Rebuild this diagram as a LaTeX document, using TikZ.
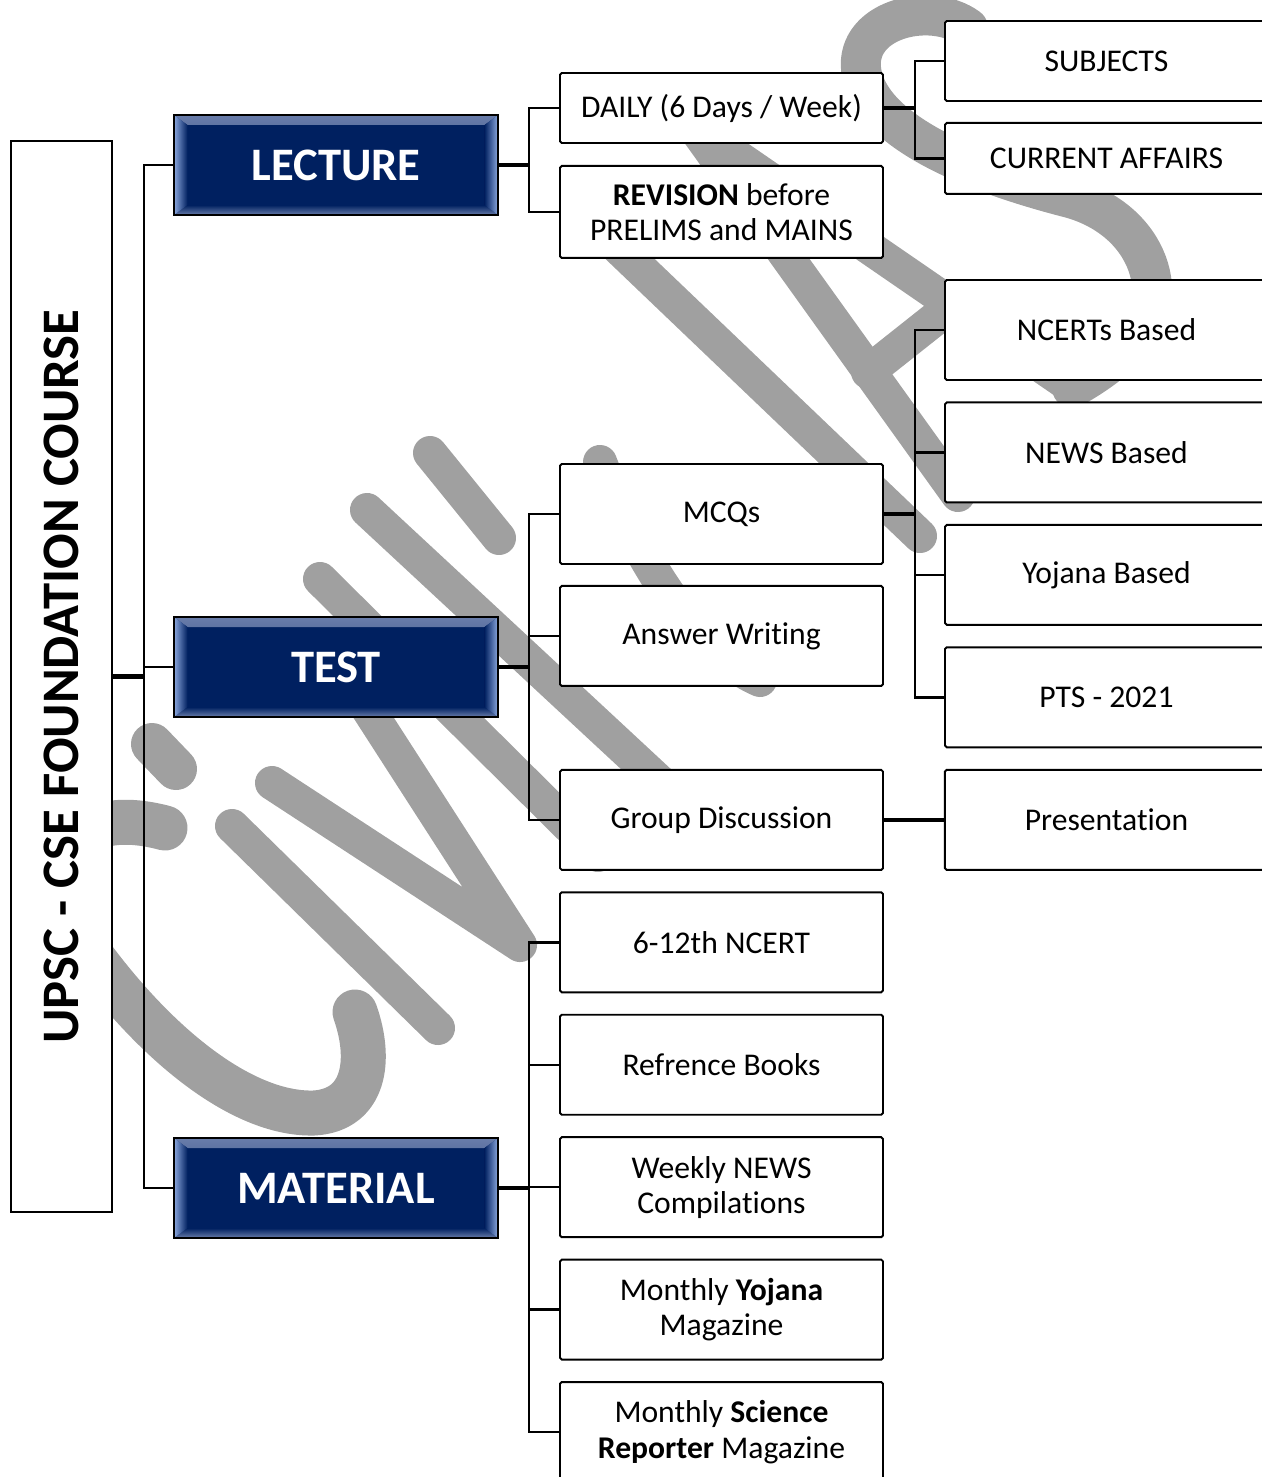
\documentclass[tikz,border=0pt]{standalone}
\usepackage{fontspec}
\setmainfont{Carlito}[Ligatures=NoCommon]
\usepackage{graphicx}
\usetikzlibrary{positioning, calc}
\definecolor{navy}{RGB}{0,32,96}
\definecolor{bevel}{RGB}{140,168,222}
\definecolor{bevtop}{RGB}{105,125,170}
\definecolor{wmgray}{RGB}{160,160,160}

\begin{document}
\begin{tikzpicture}[
    x=0.2mm, y=0.2mm,
    node distance=0.41cm,
    box/.style={rectangle, draw, line width=1.1pt, rounded corners=1pt, fill=white, minimum width=6.46cm, minimum height=2cm, align=center, inner sep=1pt, font=\fontsize{18}{20}\selectfont},
    head/.style={rectangle, draw, line width=1.1pt, fill=navy, text=white, minimum width=6.48cm, minimum height=2cm, font=\fontsize{26.5}{30}\selectfont\bfseries,
        path picture={
            \shade[top color=bevtop, bottom color=navy] (path picture bounding box.north west) -- (path picture bounding box.north east) -- ([xshift=-0.27cm,yshift=-0.2cm]path picture bounding box.north east) -- ([xshift=0.27cm,yshift=-0.2cm]path picture bounding box.north west) -- cycle;
            \shade[top color=navy, bottom color=bevtop] (path picture bounding box.south west) -- (path picture bounding box.south east) -- ([xshift=-0.27cm,yshift=0.2cm]path picture bounding box.south east) -- ([xshift=0.27cm,yshift=0.2cm]path picture bounding box.south west) -- cycle;
            \shade[left color=bevel, right color=navy] (path picture bounding box.north west) -- ([xshift=0.27cm,yshift=-0.2cm]path picture bounding box.north west) -- ([xshift=0.27cm,yshift=0.2cm]path picture bounding box.south west) -- (path picture bounding box.south west) -- cycle;
            \shade[left color=navy, right color=bevel] (path picture bounding box.north east) -- ([xshift=-0.27cm,yshift=-0.2cm]path picture bounding box.north east) -- ([xshift=-0.27cm,yshift=0.2cm]path picture bounding box.south east) -- (path picture bounding box.south east) -- cycle;
        }},
    rootbox/.style={rectangle, draw, line width=1.1pt, fill=white, minimum width=2.02cm, minimum height=21.42cm, inner sep=0pt, font=\fontsize{30}{32}\selectfont\bfseries},
    wm/.style={draw=wmgray, line width=0.68cm, line cap=round, line join=round},
    conn/.style={line width=1.4pt},
    stub/.style={line width=2.4pt}
]
\useasboundingbox (0,0) rectangle (1261,-1477);

% Watermark
\begin{scope}[yscale=-1, wm]
\draw[line width=0.9cm] (165,828) .. controls (60,800) and (40,880) .. (80,940) .. controls (150,1040) and (240,1115) .. (314,1113) .. controls (365,1110) and (372,1060) .. (355,1012);
\draw[line width=0.84cm] (152,744) -- (176,769);
\draw (232,826) -- (438,1028);
\draw (272,783) -- (520,945) -- (330,650);
\draw (320,579) -- (598,855);
\draw (367,510) -- (690,810);
\draw (430,453) -- (499,538);
\draw (600,462) .. controls (630,540) and (690,650) .. (760,680);
\draw (605,235) -- (920,536);
\draw (694,127) -- (1072,387);
\draw (694,127) -- (958,495);
\draw (868,372) -- (955,303);
\draw[line width=0.8cm] (968,28) .. controls (930,0) and (850,20) .. (862,75) .. controls (875,135) and (980,175) .. (1070,198) .. controls (1150,220) and (1175,300) .. (1130,345) .. controls (1110,365) and (1090,378) .. (1072,388);
\end{scope}

% Root
\node[rootbox] (root) at (61.5,-676.5) {\rotatebox{90}{UPSC - CSE FOUNDATION COURSE}};

% Level 1
\node[head] (lecture) at (336,-165) {LECTURE};
\node[head] (test) at (336,-667) {TEST};
\node[head] (material) at (336,-1188) {MATERIAL};

% Level 2: Lecture
\node[box, minimum height=1.4cm] (daily) at (721.5,-108) {DAILY (6 Days / Week)};
\node[box, minimum height=1.84cm, below=0.42cm of daily] (revision) {\textbf{REVISION} before\\PRELIMS and MAINS};

% Level 2: Test
\node[box] (mcq) at (721.5,-514) {MCQs};
\node[box, below=0.4cm of mcq] (answer) {Answer Writing};
\node[box, below=1.64cm of answer] (group) {Group Discussion};

% Level 2: Material
\node[box, below=of group] (ncert) {6-12th NCERT};
\node[box, below=of ncert] (books) {Refrence Books};
\node[box, below=of books] (weekly) {Weekly NEWS\\Compilations};
\node[box, below=of weekly] (yojana) {Monthly \textbf{Yojana}\\Magazine};
\node[box, below=of yojana] (science) {Monthly \textbf{Science}\\\textbf{Reporter} Magazine};

% Level 3
\node[box, minimum height=1.6cm] (subjects) at (1106.5,-61) {SUBJECTS};
\node[box, minimum height=1.42cm, below=0.4cm of subjects] (affairs) {CURRENT AFFAIRS};
\node[box] (ncertbased) at (1106.5,-330) {NCERTs Based};
\node[box, below=of ncertbased] (newsbased) {NEWS Based};
\node[box, below=of newsbased] (yojanabased) {Yojana Based};
\node[box, below=of yojanabased] (pts) {PTS - 2021};
\node[box, right=1.2cm of group] (present) {Presentation};

% Connections
\draw[stub] (root.east) -- ++(31,0) coordinate (rootbus);
\foreach \n in {lecture, test, material}
    \draw[conn] (rootbus) |- (\n.west);

\draw[stub] (lecture.east) -- ++(30,0) coordinate (lecbus);
\foreach \n in {daily, revision}
    \draw[conn] (lecbus) |- (\n.west);

\draw[stub] (test.east) -- ++(30,0) coordinate (testbus);
\foreach \n in {mcq, answer, group}
    \draw[conn] (testbus) |- (\n.west);

\draw[stub] (material.east) -- ++(30,0) coordinate (matbus);
\foreach \n in {ncert, books, weekly, yojana, science}
    \draw[conn] (matbus) |- (\n.west);

\draw[stub] (daily.east) -- ++(31,0) coordinate (dailybus);
\foreach \n in {subjects, affairs}
    \draw[conn] (dailybus) |- (\n.west);

\draw[stub] (mcq.east) -- ++(31,0) coordinate (mcqbus);
\foreach \n in {ncertbased, newsbased, yojanabased, pts}
    \draw[conn] (mcqbus) |- (\n.west);

\draw[stub] (group) -- (present);

\end{tikzpicture}
\end{document}
